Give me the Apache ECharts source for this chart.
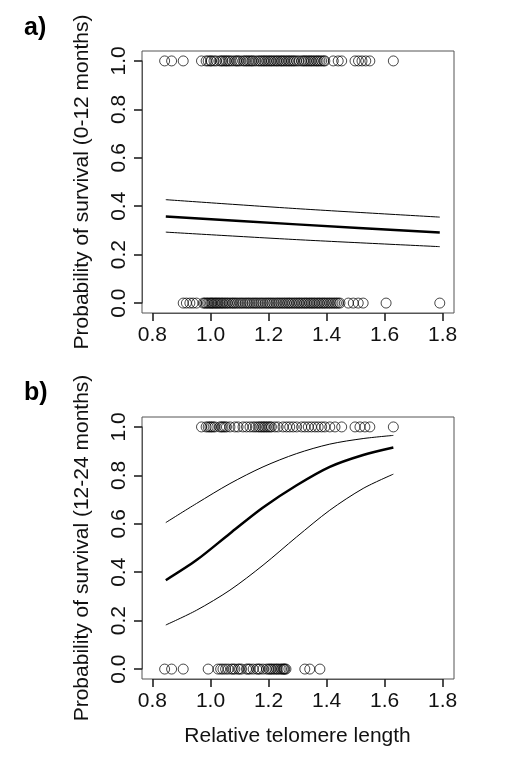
<!DOCTYPE html>
<html>
<head>
<meta charset="utf-8">
<script src="https://cdn.jsdelivr.net/npm/echarts@6/dist/echarts.min.js"></script>
<style>
  html, body { margin: 0; padding: 0; background: #fff; }
  #main { width: 516px; height: 771px; }
</style>
</head>
<body>
<div id="main"></div>
<script>
// tick labels
var xTicks = [0.8, 1.0, 1.2, 1.4, 1.6, 1.8];
var yTicks = [0.0, 0.2, 0.4, 0.6, 0.8, 1.0];

// panel a: telomere length of birds that survived (1) / died (0), 0-12 months
var aSurvX = [0.842, 0.866, 0.906, 0.969, 0.985, 0.992, 1.0, 1.003, 1.012, 1.02, 1.032, 1.038, 1.043, 1.05,
  1.055, 1.061, 1.067, 1.075, 1.084, 1.09, 1.095, 1.102, 1.112, 1.118, 1.124, 1.13, 1.136, 1.142, 1.147,
  1.155, 1.164, 1.17, 1.176, 1.182, 1.187, 1.193, 1.199, 1.205, 1.21, 1.216, 1.222, 1.228, 1.233, 1.24,
  1.245, 1.25, 1.256, 1.262, 1.268, 1.273, 1.279, 1.285, 1.29, 1.297, 1.305, 1.314, 1.32, 1.325, 1.331,
  1.337, 1.343, 1.348, 1.354, 1.36, 1.366, 1.371, 1.377, 1.383, 1.39, 1.394, 1.423, 1.44, 1.452, 1.498,
  1.51, 1.522, 1.535, 1.549, 1.63];
var aDeadX = [0.906, 0.917, 0.929, 0.94, 0.952, 0.975, 0.98, 0.985, 0.99, 0.995, 1.0, 1.004, 1.008, 1.013,
  1.018, 1.022, 1.027, 1.032, 1.037, 1.042, 1.047, 1.053, 1.058, 1.064, 1.07, 1.076, 1.081, 1.087, 1.093,
  1.1, 1.106, 1.112, 1.119, 1.125, 1.131, 1.137, 1.144, 1.15, 1.156, 1.162, 1.169, 1.175, 1.181, 1.188,
  1.194, 1.2, 1.206, 1.212, 1.218, 1.225, 1.231, 1.237, 1.243, 1.249, 1.255, 1.261, 1.267, 1.272, 1.278,
  1.284, 1.29, 1.296, 1.302, 1.307, 1.313, 1.319, 1.325, 1.33, 1.336, 1.342, 1.347, 1.353, 1.358, 1.364,
  1.37, 1.375, 1.381, 1.387, 1.392, 1.398, 1.404, 1.41, 1.416, 1.422, 1.428, 1.434, 1.44, 1.446, 1.475,
  1.492, 1.509, 1.526, 1.605, 1.79];
var aCurveX = [0.846, 1.297, 1.79];
var aFit = [0.358, 0.325, 0.291];
var aHi = [0.427, 0.390, 0.355];
var aLo = [0.293, 0.262, 0.233];

// panel b: 12-24 months
var bSurvX = [0.969, 0.985, 0.992, 0.998, 1.003, 1.009, 1.015, 1.032, 1.038, 1.043, 1.049, 1.055, 1.067,
  1.084, 1.095, 1.112, 1.124, 1.136, 1.147, 1.155, 1.164, 1.17, 1.176, 1.182, 1.187, 1.193, 1.199, 1.205,
  1.21, 1.222, 1.233, 1.25, 1.262, 1.273, 1.285, 1.297, 1.314, 1.325, 1.337, 1.348, 1.36, 1.371, 1.383,
  1.394, 1.411, 1.429, 1.452, 1.498, 1.515, 1.532, 1.549, 1.63];
var bDeadX = [0.842, 0.866, 0.906, 0.992, 1.026, 1.035, 1.043, 1.052, 1.061, 1.072, 1.078, 1.084, 1.095,
  1.1, 1.107, 1.124, 1.13, 1.136, 1.147, 1.159, 1.165, 1.17, 1.181, 1.193, 1.2, 1.205, 1.21, 1.216, 1.222,
  1.228, 1.233, 1.24, 1.245, 1.25, 1.253, 1.256, 1.26, 1.325, 1.342, 1.377];
var bCurveX = [0.846, 0.952, 1.067, 1.181, 1.297, 1.411, 1.526, 1.63];
var bFit = [0.367, 0.45, 0.56, 0.667, 0.759, 0.835, 0.884, 0.915];
var bHi = [0.605, 0.684, 0.766, 0.835, 0.89, 0.929, 0.952, 0.965];
var bLo = [0.182, 0.243, 0.326, 0.429, 0.546, 0.656, 0.746, 0.805];

var font = 'Liberation Sans, Arial, sans-serif';
var tickStyle = { color: '#222', width: 1.6 };

// plot boxes (R: data range padded by 4%)
var boxA = { left: 142, top: 51, width: 312, height: 262 };
var boxB = { left: 142, top: 417, width: 312, height: 262 };
var xMin = 0.764, xMax = 1.839, yMin = -0.041, yMax = 1.041;

function pts(xs, y) {
    return xs.map(function (x) { return [x, y]; });
}
function curve(xs, ys) {
    return xs.map(function (x, i) { return [x, ys[i]]; });
}
function hidden(idx, min, max) {
    return { type: 'value', gridIndex: idx, min: min, max: max, show: false, splitLine: { show: false } };
}

// R-style axes only span the tick range, so they get their own grids
function axisGridX(box) {
    var pxPer = box.width / (xMax - xMin);
    var l = box.left + (xTicks[0] - xMin) * pxPer;
    var w = (xTicks[xTicks.length - 1] - xTicks[0]) * pxPer;
    return { left: l, top: box.top, width: w, height: box.height, show: false };
}
function axisGridY(box) {
    var pxPer = box.height / (yMax - yMin);
    var t = box.top + (yMax - yTicks[yTicks.length - 1]) * pxPer;
    var h = (yTicks[yTicks.length - 1] - yTicks[0]) * pxPer;
    return { left: box.left, top: t, width: box.width, height: h, show: false };
}
function tickX(idx, name) {
    return {
        type: 'value', gridIndex: idx, min: xTicks[0], max: xTicks[xTicks.length - 1], interval: 0.2,
        name: name, nameLocation: 'middle', nameGap: 47,
        nameTextStyle: { fontFamily: font, fontSize: 21, color: '#111' },
        axisLine: { show: true, lineStyle: { color: '#555', width: 1 } },
        splitLine: { show: false },
        axisTick: { show: true, length: 8, lineStyle: tickStyle },
        axisLabel: {
            fontFamily: font, fontSize: 21, color: '#111', margin: 12, showMinLabel: true, showMaxLabel: true,
            formatter: function (v) { return v.toFixed(1); }
        }
    };
}
function tickY(idx, name) {
    return {
        type: 'value', gridIndex: idx, min: yTicks[0], max: yTicks[yTicks.length - 1], interval: 0.2,
        name: name, nameLocation: 'middle', nameGap: 49,
        nameTextStyle: { fontFamily: font, fontSize: 21, color: '#111' },
        axisLine: { show: true, lineStyle: { color: '#555', width: 1 } },
        splitLine: { show: false },
        axisTick: { show: true, length: 8, lineStyle: tickStyle },
        axisLabel: {
            fontFamily: font, fontSize: 21, color: '#111', margin: 12, rotate: 90, showMinLabel: true, showMaxLabel: true,
            formatter: function (v) { return v.toFixed(1); }
        }
    };
}

function scatter(idx, data) {
    return {
        type: 'scatter', xAxisIndex: idx, yAxisIndex: idx, data: data,
        symbol: 'circle', symbolSize: 10, silent: true,
        itemStyle: { color: 'rgba(0,0,0,0)', borderColor: '#000', borderWidth: 0.9 }
    };
}
function line(idx, data, w) {
    return {
        type: 'line', xAxisIndex: idx, yAxisIndex: idx, data: data,
        showSymbol: false, smooth: 0.3, silent: true,
        lineStyle: { color: '#000', width: w }
    };
}

var chart = echarts.init(document.getElementById('main'));
chart.setOption({
    animation: false,
    backgroundColor: '#fff',
    title: [
        { text: 'a)', left: 19, top: 11, textStyle: { fontFamily: font, fontSize: 25, fontWeight: 'bold', color: '#000' } },
        { text: 'b)', left: 19, top: 376, textStyle: { fontFamily: font, fontSize: 25, fontWeight: 'bold', color: '#000' } }
    ],
    grid: [
        Object.assign({ show: true, borderColor: '#555', borderWidth: 1, backgroundColor: 'transparent' }, boxA),
        Object.assign({ show: true, borderColor: '#555', borderWidth: 1, backgroundColor: 'transparent' }, boxB),
        axisGridX(boxA), axisGridY(boxA),
        axisGridX(boxB), axisGridY(boxB)
    ],
    xAxis: [
        hidden(0, xMin, xMax), hidden(1, xMin, xMax),
        tickX(2, ''), hidden(3, 0, 1),
        tickX(4, 'Relative telomere length'), hidden(5, 0, 1)
    ],
    yAxis: [
        hidden(0, yMin, yMax), hidden(1, yMin, yMax),
        hidden(2, 0, 1), tickY(3, 'Probability of survival (0-12 months)'),
        hidden(4, 0, 1), tickY(5, 'Probability of survival (12-24 months)')
    ],
    series: [
        scatter(0, pts(aSurvX, 1).concat(pts(aDeadX, 0))),
        line(0, curve(aCurveX, aHi), 1),
        line(0, curve(aCurveX, aFit), 2.5),
        line(0, curve(aCurveX, aLo), 1),
        scatter(1, pts(bSurvX, 1).concat(pts(bDeadX, 0))),
        line(1, curve(bCurveX, bHi), 1),
        line(1, curve(bCurveX, bFit), 2.5),
        line(1, curve(bCurveX, bLo), 1)
    ]
});
</script>
</body>
</html>
